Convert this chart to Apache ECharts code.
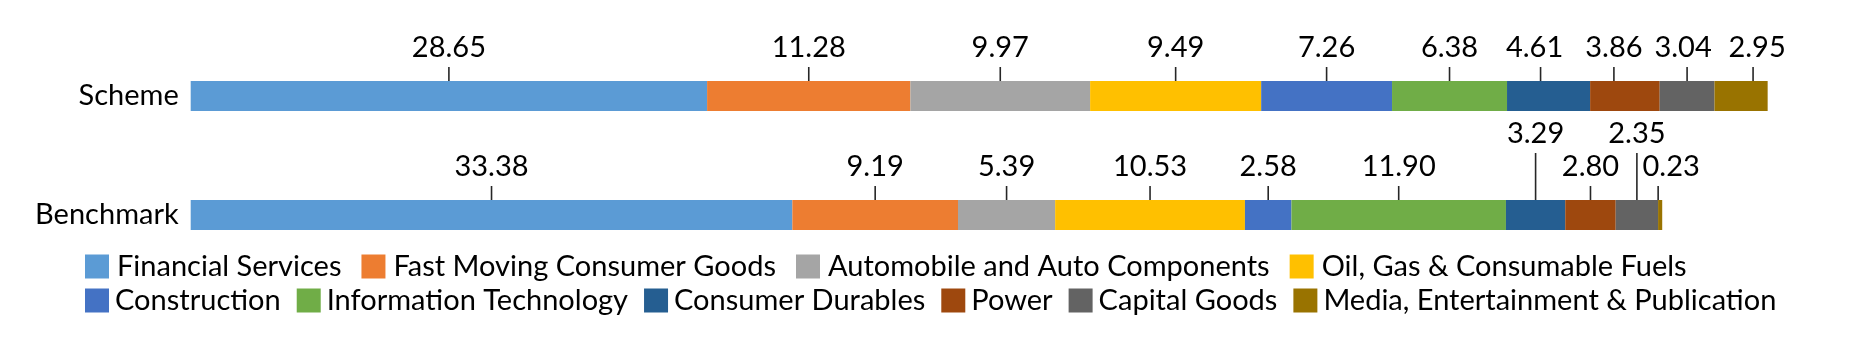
<!DOCTYPE html>
<html>
<head>
<meta charset="utf-8">
<script src="https://cdn.jsdelivr.net/npm/echarts@6/dist/echarts.min.js"></script>
<style>
html,body{margin:0;padding:0;background:#fff;}
#chart{width:1855px;height:358px;}
</style>
</head>
<body>
<div id="chart"></div>
<script>
const categories = ['Scheme', 'Benchmark'];
const sectors = [
  'Financial Services',
  'Fast Moving Consumer Goods',
  'Automobile and Auto Components',
  'Oil, Gas & Consumable Fuels',
  'Construction',
  'Information Technology',
  'Consumer Durables',
  'Power',
  'Capital Goods',
  'Media, Entertainment & Publication'
];
const schemeValues = [28.65, 11.28, 9.97, 9.49, 7.26, 6.38, 4.61, 3.86, 3.04, 2.95];
const benchmarkValues = [33.38, 9.19, 5.39, 10.53, 2.58, 11.90, 3.29, 2.80, 2.35, 0.23];
const legendRow1 = sectors.slice(0, 4);
const legendRow2 = sectors.slice(4);

const colors = ['#5B9BD5', '#ED7D31', '#A5A5A5', '#FFC000', '#4472C4',
                '#70AD47', '#255E91', '#9E480E', '#636363', '#997300'];

const FONT = 'Lato';
const FS = 29;

// label nudges (pixel styling, keyed by row-sector index)
const nudges = {
  '0-6': { line: -8, text: -14 },
  '0-7': { line: -11, text: -11 },
  '0-8': { line: 0, text: -4 },
  '0-9': { line: 12, text: 16 },
  '1-6': { raised: true },
  '1-8': { raised: true },
  '1-9': { line: -2, text: 11 }
};

const rows = [schemeValues, benchmarkValues];
const labelData = [];
rows.forEach((vals, r) => {
  let acc = 0;
  vals.forEach((v, i) => {
    labelData.push([acc + v / 2, r, v, i]);
    acc += v;
  });
});

const barSeries = sectors.map((name, i) => ({
  name: name,
  type: 'bar',
  stack: 'total',
  barWidth: 30,
  itemStyle: { color: colors[i] },
  emphasis: { disabled: true },
  data: [schemeValues[i], benchmarkValues[i]]
}));

const labelSeries = {
  type: 'custom',
  name: 'labels',
  clip: false,
  z: 10,
  silent: true,
  encode: { x: 0, y: 1 },
  data: labelData,
  renderItem: function (params, api) {
    const pt = api.coord([api.value(0), api.value(1)]);
    const r = api.value(1), i = api.value(3);
    const n = nudges[r + '-' + i] || {};
    const barTop = pt[1] - 15;
    const lx = pt[0] + (n.line || 0);
    const tx = pt[0] + (n.text || 0);
    const lineTop = barTop - (n.raised ? 47 : 14);
    const ty = barTop - (n.raised ? 66 : 33);
    return {
      type: 'group',
      children: [
        { type: 'line', shape: { x1: lx, y1: lineTop, x2: lx, y2: barTop },
          style: { stroke: '#262626', lineWidth: 1.6 } },
        { type: 'text', x: tx, y: ty,
          style: { text: api.value(2).toFixed(2), fill: '#000', fontSize: FS, fontFamily: FONT,
                   align: 'center', verticalAlign: 'middle' } }
      ]
    };
  }
};

const legendBase = {
  orient: 'horizontal',
  left: 85,
  padding: 0,
  icon: 'rect',
  itemWidth: 24,
  itemHeight: 24,
  selectedMode: false
};

const option = {
  animation: false,
  backgroundColor: '#fff',
  color: colors,
  grid: { left: 190.7, top: 36.5, height: 238, width: 1622.2 },
  xAxis: { type: 'value', min: 0, max: 90, show: false },
  yAxis: {
    type: 'category',
    data: categories,
    inverse: true,
    axisLine: { show: false },
    axisTick: { show: false },
    axisLabel: { fontSize: FS, fontFamily: FONT, color: '#000', margin: 12 }
  },
  legend: [
    Object.assign({}, legendBase, { top: 252, data: legendRow1, itemGap: 20,
      textStyle: { fontSize: FS, fontFamily: FONT, color: '#000', lineHeight: 24, padding: [0, 0, 0, 3] } }),
    Object.assign({}, legendBase, { top: 286, data: legendRow2, itemGap: 16,
      textStyle: { fontSize: FS, fontFamily: FONT, color: '#000', lineHeight: 24, padding: [0, 0, 0, 1] } })
  ],
  series: barSeries.concat([labelSeries])
};

const chart = echarts.init(document.getElementById('chart'), null, { renderer: 'canvas' });
chart.setOption(option);
</script>
</body>
</html>
